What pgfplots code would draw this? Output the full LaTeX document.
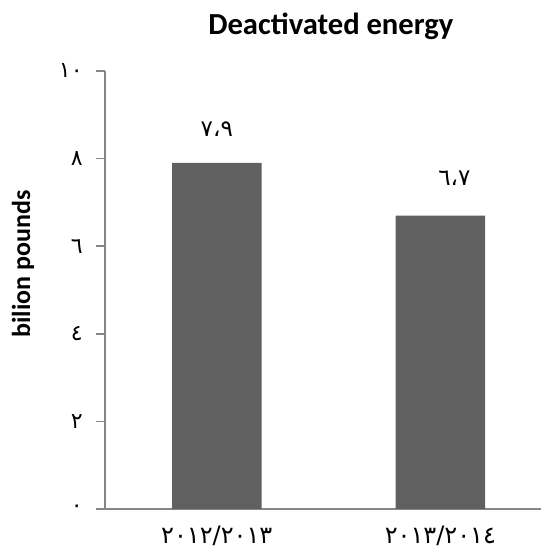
\documentclass[border=0pt]{standalone}
\usepackage{fontspec}
\setmainfont{Carlito}
\newfontfamily\arabicfont[Script=Arabic]{DejaVu Sans}
\usepackage{pgfplots}
\usepackage{pgfplotstable}
\pgfplotsset{compat=1.18}

\definecolor{barfill}{RGB}{96,96,96}
\definecolor{axisgray}{RGB}{134,134,134}

% value labels with their small offsets, as Excel placed them
\pgfplotstableread{
x y lab dx dy
0 7.9 ٧،٩ 0 17
1 6.7 ٦،٧ 7 18.5
}\energydata

\begin{document}
\begin{tikzpicture}
\path[use as bounding box] (0,0) rectangle (270.5pt,274.5pt);
\begin{axis}[
    at={(52.5pt,20pt)}, anchor=south west,
    scale only axis,
    width=218pt, height=219pt,
    xmin=-0.5, xmax=1.45,
    ymin=0, ymax=10,
    ytick={0,2,...,10},
    yticklabels={٠,٢,٤,٦,٨,١٠},
    xtick={0,1},
    xticklabels={٢٠١٢/٢٠١٣,٢٠١٣/٢٠١٤},
    axis x line=bottom, axis y line=left,
    axis line style={-, axisgray, line width=0.8pt},
    tick align=outside,
    major tick length=4.5pt,
    ytick style={axisgray, line width=0.8pt},
    xtick style={draw=none},
    yticklabel style={font=\arabicfont\fontsize{11}{11}\selectfont, inner sep=0pt, xshift=-6.5pt},
    xticklabel style={font=\arabicfont\fontsize{12}{12}\selectfont, inner sep=0pt, yshift=-4pt},
    title={Deactivated energy},
    title style={font=\bfseries\fontsize{15.3}{15.3}\selectfont, anchor=base,
        at={(axis description cs:0.518,1.055)}},
    ylabel={bilion pounds},
    ylabel style={font=\bfseries\fontsize{13}{13}\selectfont, anchor=center,
        at={(axis description cs:-0.188,0.559)}},
    ybar, bar width=0.4,
    point meta=explicit symbolic,
    visualization depends on={\thisrow{dx} \as \dx},
    visualization depends on={\thisrow{dy} \as \dy},
    nodes near coords={\arabicfont\pgfplotspointmeta},
    nodes near coords style={anchor=center, inner sep=0pt, xshift=\dx, yshift=\dy,
        font=\arabicfont\fontsize{11.5}{11.5}\selectfont, text=black},
]
\addplot[fill=barfill, draw=none] table[x=x, y=y, meta=lab] {\energydata};
\end{axis}
\end{tikzpicture}
\end{document}
